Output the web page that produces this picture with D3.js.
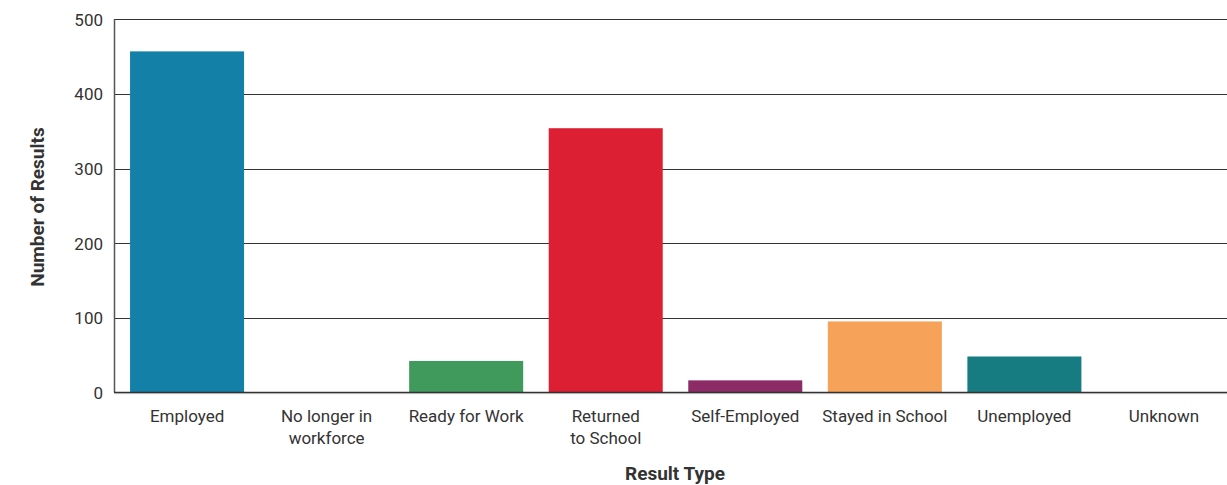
<!DOCTYPE html>
<html><head><meta charset="utf-8">
<script src="https://cdn.jsdelivr.net/npm/d3@7"></script>
<style>
html,body{margin:0;padding:0;background:#fff;}
svg text{font-family:"Liberation Sans Narrow","Roboto","Liberation Sans",sans-serif;fill:#333;}
</style></head>
<body>
<svg id="chart" width="1227" height="485"></svg>
<script>
const categories = ["Employed","No longer in workforce","Ready for Work","Returned to School","Self-Employed","Stayed in School","Unemployed","Unknown"];
const labelLines = [["Employed"],["No longer in","workforce"],["Ready for Work"],["Returned","to School"],["Self-Employed"],["Stayed in School"],["Unemployed"],["Unknown"]];
const values = [457, 0, 42, 354, 16, 95, 48, 0];
const colors = ["#1380A8","#999999","#3F9A5B","#DC1F33","#8C2B66","#F6A259","#177C82","#999999"];
const yTicks = [0,100,200,300,400,500];

const svg = d3.select("#chart");
const mLeft = 114, mTop = 19.3, mBottom = 392.3;

const x = d3.scaleBand().domain(categories).range([mLeft, 1237]).paddingInner(0.183).paddingOuter(0.115);
const y = d3.scaleLinear().domain([0,500]).range([mBottom, mTop]);

// gridlines
svg.append("g").selectAll("line").data(yTicks.filter(d=>d>0)).join("line")
  .attr("x1", mLeft).attr("x2", 1227)
  .attr("y1", d=>Math.round(y(d))+0.5).attr("y2", d=>Math.round(y(d))+0.5)
  .attr("stroke", "#333").attr("stroke-width", 1);

// bars
svg.append("g").selectAll("rect").data(values).join("rect")
  .attr("x", (d,i)=>x(categories[i]))
  .attr("width", x.bandwidth())
  .attr("y", d=>y(d))
  .attr("height", d=>mBottom - y(d))
  .attr("fill", (d,i)=>colors[i]);

// y axis
const yAxis = d3.axisLeft(y).tickValues(yTicks).tickSize(0).tickPadding(11);
const yg = svg.append("g").attr("transform", `translate(${mLeft},0)`).call(yAxis);
yg.select(".domain").remove();
yg.selectAll("text").style("font-size","17px").attr("fill","#333").attr("dy","0.35em");

svg.append("line").attr("x1", mLeft+0.5).attr("x2", mLeft+0.5).attr("y1", mTop).attr("y2", mBottom)
  .attr("stroke","#555").attr("stroke-width",1.5);
// baseline
svg.append("line").attr("x1", mLeft).attr("x2", 1227).attr("y1", mBottom).attr("y2", mBottom)
  .attr("stroke","#333").attr("stroke-width",1.2);
svg.append("line").attr("x1", mLeft).attr("x2", 1227).attr("y1", mBottom+1.3).attr("y2", mBottom+1.3)
  .attr("stroke","#aaa").attr("stroke-width",1);

// x labels
const xg = svg.append("g");
categories.forEach((c,i)=>{
  const t = xg.append("text").attr("text-anchor","middle")
    .attr("x", x(c)+x.bandwidth()/2).attr("y", 422).style("font-size","17px");
  labelLines[i].forEach((ln,j)=>{
    t.append("tspan").attr("x", x(c)+x.bandwidth()/2).attr("dy", j===0?0:22).text(ln);
  });
});

// axis titles
svg.append("text").attr("x", 675).attr("y", 480).attr("text-anchor","middle")
  .style("font-size","19px").style("font-weight","bold").attr("fill","#222").text("Result Type");
svg.append("text").attr("transform","translate(44,207) rotate(-90)").attr("text-anchor","middle")
  .style("font-size","19px").style("font-weight","bold").attr("fill","#222").text("Number of Results");
</script>
</body></html>
